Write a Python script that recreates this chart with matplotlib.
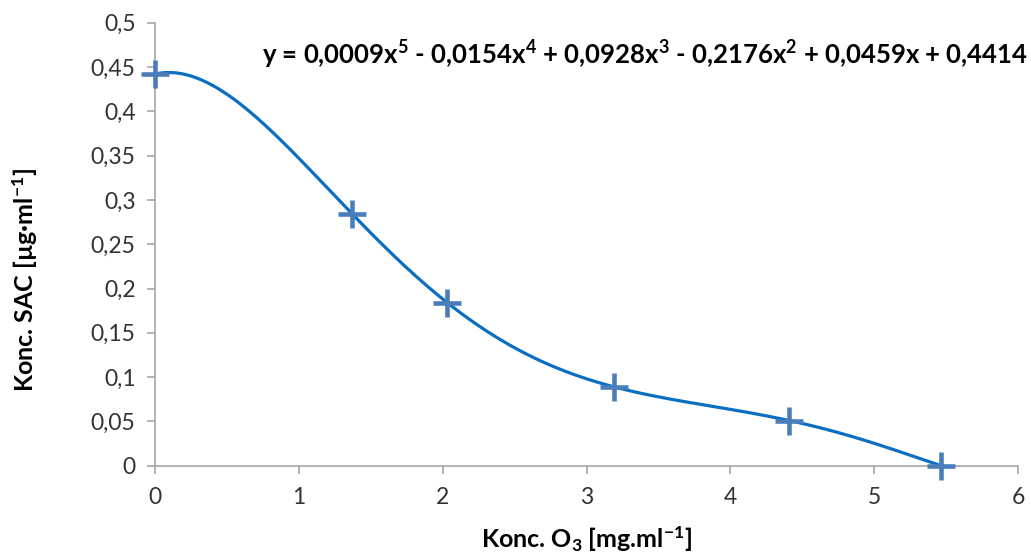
import numpy as np
import matplotlib
matplotlib.use('Agg')
import matplotlib.pyplot as plt
from matplotlib.ticker import FuncFormatter, MultipleLocator

# measured points
o3_conc = [0.0, 1.372, 2.032, 3.191, 4.409, 5.466]
sac_conc = [0.442, 0.284, 0.184, 0.089, 0.051, 0.0]

# 5th order polynomial trendline, label as printed on the chart
trend_order = 5
trend_label = ('y = 0,0009x$^5$ - 0,0154x$^4$ + 0,0928x$^3$ - 0,2176x$^2$ '
               '+ 0,0459x + 0,4414')

x_label = 'Konc. O$_3$ [mg.ml$^{-1}$]'
y_label = 'Konc. SAC [µg·ml$^{-1}$]'

plt.rcParams['font.family'] = ['Lato', 'DejaVu Sans']
plt.rcParams['mathtext.default'] = 'regular'

line_color = '#0a6fc2'
marker_color = '#4a7ebb'
axis_color = '#a6a6a6'
text_color = '#333333'

fig = plt.figure(figsize=(10.31, 5.55), dpi=100)
ax = fig.add_axes([155 / 1031, 1 - 465.7 / 555, (1018 - 155) / 1031, (465.7 - 22.7) / 555])

# trendline fitted to the points, like the spreadsheet does
coef = np.polyfit(o3_conc, sac_conc, trend_order)
xs = np.linspace(min(o3_conc), max(o3_conc), 300)
ax.plot(xs, np.polyval(coef, xs), color=line_color, lw=2.3, zorder=2,
        solid_capstyle='round')
ax.plot(o3_conc, sac_conc, ls='none', marker='+', ms=20, mew=3.3,
        color=marker_color, zorder=3, clip_on=False)

ax.set_xlim(0, 6)
ax.set_ylim(0, 0.5)
ax.xaxis.set_major_locator(MultipleLocator(1))
ax.yaxis.set_major_locator(MultipleLocator(0.05))


def comma_fmt(v, pos):
    s = ('%.2f' % v).rstrip('0').rstrip('.')
    return s.replace('.', ',')


ax.xaxis.set_major_formatter(FuncFormatter(comma_fmt))
ax.yaxis.set_major_formatter(FuncFormatter(comma_fmt))

for side in ('top', 'right'):
    ax.spines[side].set_visible(False)
for side in ('left', 'bottom'):
    ax.spines[side].set_color(axis_color)
    ax.spines[side].set_linewidth(1.2)

ax.tick_params(direction='out', length=6, width=1.2, color=axis_color,
               labelsize=16.5, labelcolor=text_color)
ax.tick_params(axis='x', pad=9)
ax.tick_params(axis='y', pad=8)

ax.set_xlabel(x_label, fontsize=18, fontweight='bold')
ax.set_ylabel(y_label, fontsize=18, fontweight='bold')
ax.xaxis.set_label_coords(0.5, -0.132)
ax.yaxis.set_label_coords(-0.133, 0.42)

ax.text(1.012, 0.927, trend_label, transform=ax.transAxes, ha='right', va='center',
        fontsize=18.5, fontweight='bold', color='black')

fig.savefig('out.png', dpi=100)
